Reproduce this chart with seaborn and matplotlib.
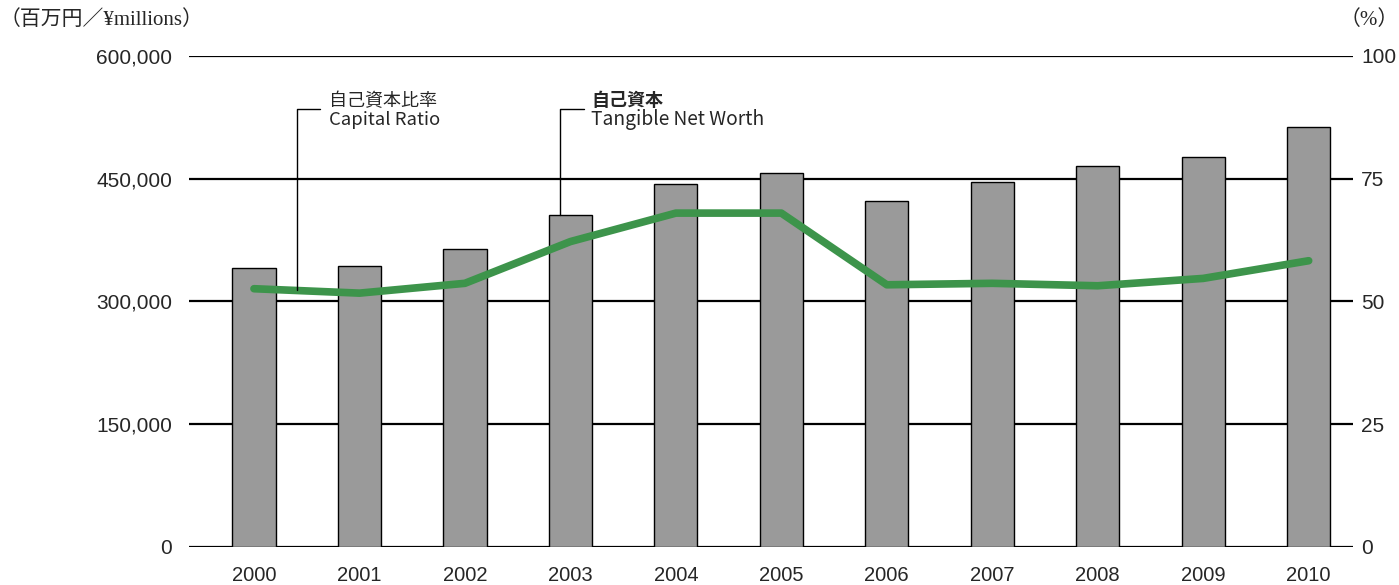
import pandas as pd
import seaborn as sns
import matplotlib.pyplot as plt

# DADOS
years = ['2000', '2001', '2002', '2003', '2004', '2005', '2006', '2007', '2008', '2009', '2010']
net_worth = [340600, 343800, 364200, 405700, 444000, 457000, 423200, 445700, 465200, 476600, 512900]
capital_ratio = [52.6, 51.7, 53.7, 62.2, 68.0, 68.0, 53.4, 53.7, 53.2, 54.7, 58.3]

left_ticks = [0, 150000, 300000, 450000, 600000]
right_ticks = [0, 25, 50, 75, 100]

df = pd.DataFrame({'ano': years, 'patrimonio': net_worth, 'ratio': capital_ratio})

sns.set_theme(style="white")
plt.rcParams['font.family'] = ['Liberation Sans', 'DejaVu Sans']

bar_color = '#9a9a9a'
line_color = '#3d944b'
jp_font = ['Noto Sans CJK JP', 'DejaVu Sans']
serif_jp = ['Liberation Serif', 'Noto Sans CJK JP']

fig = plt.figure(figsize=(13.99, 5.85), dpi=100)
ax = fig.add_axes([0.1351, 0.065, 0.8320, 0.8393])

sns.barplot(data=df, x='ano', y='patrimonio', ax=ax, color=bar_color, saturation=1,
            width=0.41, edgecolor='black', linewidth=1, zorder=3)
ax.set_ylim(0, 600000)
ax.set_yticks(left_ticks)
ax.set_yticklabels([f'{v:,}' for v in left_ticks])
ax.yaxis.grid(True, color='black', linewidth=1.6)
ax.set_axisbelow(True)
ax.set_xlabel('')
ax.set_ylabel('')
for s in ax.spines.values():
    s.set_visible(False)

# eixo secundário: índice de capital próprio
ax2 = ax.twinx()
sns.pointplot(data=df, x='ano', y='ratio', ax=ax2, color=line_color, markers='',
              linewidth=5.5, zorder=5)
ax2.set_ylim(0, 100)
ax2.set_yticks(right_ticks)
ax2.set_ylabel('')
ax2.grid(False)
for s in ax2.spines.values():
    s.set_visible(False)

ax.set_xlim(-0.616, 10.42)
ax2.set_xlim(-0.616, 10.42)

ax.tick_params(axis='y', length=0, pad=12, labelsize=15)
ax.tick_params(axis='x', length=0, pad=13.5, labelsize=14.5)
ax2.tick_params(axis='y', length=0, pad=6, labelsize=15)

# linhas de chamada das legendas
ax2.plot([0.41, 0.41, 0.626], [52.4, 89.2, 89.2], color='black', lw=1, zorder=6)
ax2.plot([2.90, 2.90, 3.13], [67.6, 89.2, 89.2], color='black', lw=1, zorder=6)

ax2.text(0.711, 90.9, '自己資本比率', family=jp_font, fontsize=13, va='center', ha='left')
ax2.text(0.711, 87.0, 'Capital Ratio', family=jp_font, fontsize=13.3, va='center', ha='left')
ax2.text(3.196, 90.9, '自己資本', family=jp_font, fontsize=13, fontweight='bold',
         va='center', ha='left')
ax2.text(3.196, 87.0, 'Tangible Net Worth', family=jp_font, fontsize=13.8, va='center', ha='left')

fig.text(0.0, 1 - 20 / 585, '（百万円／¥millions）', family=serif_jp, fontsize=15,
         va='center', ha='left')
fig.text(1.0, 1 - 20 / 585, '（%）', family=serif_jp, fontsize=15,
         va='center', ha='right')

plt.savefig('out.png', dpi=100)
